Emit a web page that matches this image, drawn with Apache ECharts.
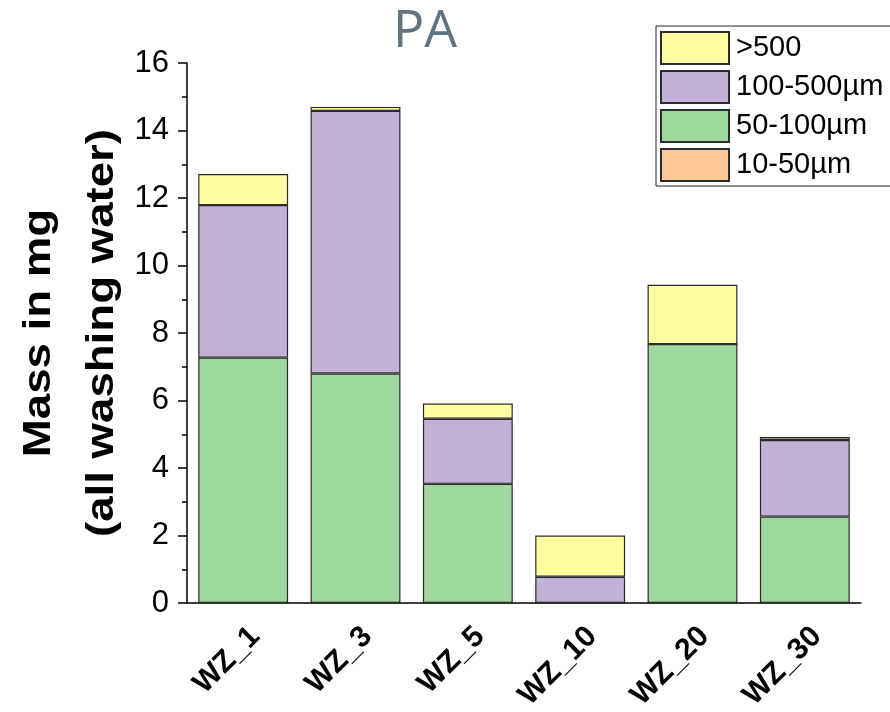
<!DOCTYPE html>
<html>
<head>
<meta charset="utf-8">
<script src="https://cdn.jsdelivr.net/npm/echarts@6/dist/echarts.min.js"></script>
<style>
  html, body { margin: 0; padding: 0; background: #fff; }
  #chart { width: 890px; height: 712px; }
</style>
</head>
<body>
<div id="chart"></div>
<script>
// samples
const categories = ['WZ_1', 'WZ_3', 'WZ_5', 'WZ_10', 'WZ_20', 'WZ_30']
// mass per size fraction (mg)
const small10to50 = [0, 0, 0, 0, 0, 0]
const mid50to100 = [7.27, 6.8, 3.53, 0, 7.67, 2.56]
const big100to500 = [4.52, 7.78, 1.93, 0.78, 0, 2.27]
const over500 = [0.92, 0.12, 0.45, 1.22, 1.76, 0.09]
const yTicks = [0, 2, 4, 6, 8, 10, 12, 14, 16]
const yName = ['Mass in mg', '(all washing water)']

const chart = echarts.init(document.getElementById('chart'))

const barBorder = {borderColor: '#2b2b2b', borderWidth: 1.2}

const mkSeries = function (name, data, color) {
  return {
    name: name,
    type: 'bar',
    stack: 'mass',
    data: data,
    barWidth: '80%',
    itemStyle: {color: color, ...barBorder},
  }
}

//y axis title, two lines, slightly stretched like the original
const nameText = function (text, x) {
  return {
    type: 'text',
    x: x,
    y: 333,
    rotation: Math.PI / 2,
    scaleX: 1.2,
    style: {
      text: text,
      font: 'bold 38px "Liberation Sans"',
      fill: '#000',
      align: 'center',
      verticalAlign: 'middle',
    },
  }
}

chart.setOption({
  animation: false,
  title: {
    text: 'PA',
    left: 420,
    top: 1,
    textAlign: 'center',
    textStyle: {fontFamily: 'Open Sans', fontSize: 52, fontWeight: 'normal', color: '#5f7381'},
  },
  legend: {
    data: ['>500', '100-500µm', '50-100µm', '10-50µm'],
    orient: 'vertical',
    icon: 'rect',
    left: 656,
    top: 26,
    padding: [5, 30, 4, 4],
    itemWidth: 68,
    itemHeight: 32,
    itemGap: 5,
    borderColor: '#222',
    borderWidth: 1,
    backgroundColor: '#fff',
    textStyle: {fontFamily: 'Liberation Sans', fontSize: 29, color: '#000', padding: [0, 0, 0, 2]},
  },
  grid: {left: 187, right: 29, top: 63, bottom: 109, outerBoundsMode: 'none', containLabel: false},
  graphic: [nameText(yName[0], 40), nameText(yName[1], 103)],
  xAxis: [
    {
      type: 'category',
      data: categories,
      axisLine: {lineStyle: {color: '#000', width: 1.5}},
      axisTick: {alignWithLabel: true, length: 9, lineStyle: {color: '#000', width: 1.5}},
      axisLabel: {
        rotate: 45,
        margin: 41,
        padding: [0, -17, 0, 0],
        fontFamily: 'Liberation Sans',
        fontWeight: 'bold',
        fontSize: 30,
        color: '#000',
      },
    },
    {
      // boundary ticks between categories
      type: 'category',
      data: categories,
      position: 'bottom',
      axisLine: {show: false},
      axisTick: {length: 5, lineStyle: {color: '#000', width: 1.5}},
      axisLabel: {show: false},
    },
  ],
  yAxis: {
    type: 'value',
    min: yTicks[0],
    max: yTicks[yTicks.length - 1],
    interval: 2,
    axisLine: {show: true, lineStyle: {color: '#000', width: 1.5}},
    axisTick: {show: true, inside: false, length: 9, lineStyle: {color: '#000', width: 1.5}},
    minorTick: {show: true, splitNumber: 2, length: 5, lineStyle: {color: '#000', width: 1.5}},
    splitLine: {show: false},
    axisLabel: {fontFamily: 'Liberation Sans', fontSize: 31, color: '#000', margin: 18},
  },
  series: [
    mkSeries('10-50µm', small10to50, '#ffc896'),
    mkSeries('50-100µm', mid50to100, '#9fd89e'),
    mkSeries('100-500µm', big100to500, '#c2b1d6'),
    mkSeries('>500', over500, '#ffffa2'),
  ],
})
</script>
</body>
</html>
